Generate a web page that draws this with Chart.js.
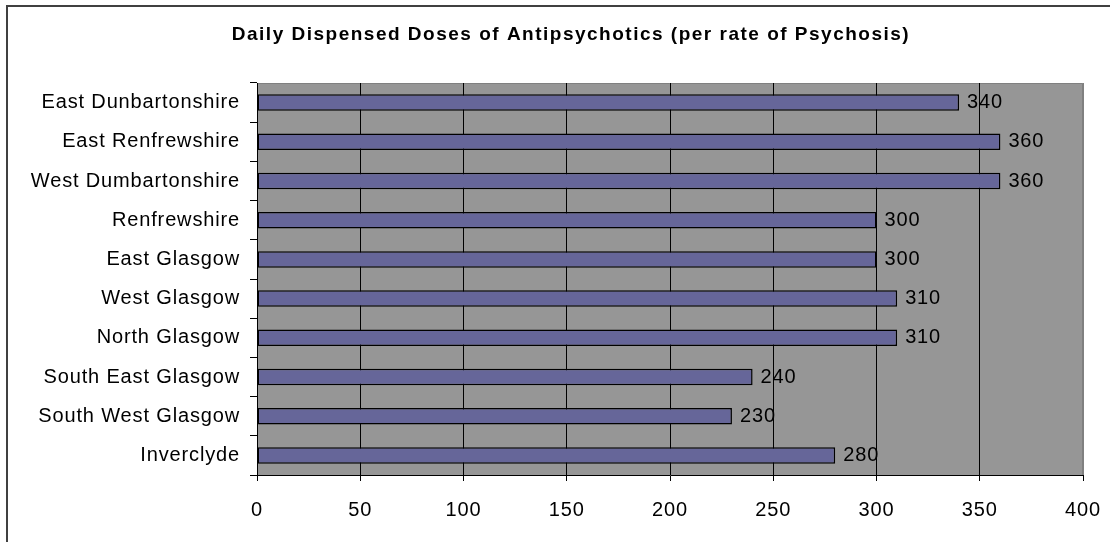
<!DOCTYPE html>
<html>
<head>
<meta charset="utf-8">
<script src="https://cdn.jsdelivr.net/npm/chart.js@4/dist/chart.umd.min.js"></script>
<style>
html,body{margin:0;padding:0;background:#fff;overflow:hidden;}
#c{display:block;}
</style>
</head>
<body>
<canvas id="c" width="1110" height="542"></canvas>
<script>
const categories = ["East Dunbartonshire","East Renfrewshire","West Dumbartonshire","Renfrewshire","East Glasgow","West Glasgow","North Glasgow","South East Glasgow","South West Glasgow","Inverclyde"];
const doses = [340,360,360,300,300,310,310,240,230,280];
const titleText = "Daily Dispensed Doses of Antipsychotics (per rate of Psychosis)";
const xMin = 0, xMax = 400, xStep = 50;

const FONT = "'Liberation Sans', Arial, sans-serif";
const SPACING = '0.85px';

const framePlugin = {
  id: 'frame',
  beforeDraw(chart) {
    const ctx = chart.ctx, a = chart.chartArea;
    ctx.letterSpacing = SPACING;
    ctx.save();
    // outer border (left and top)
    ctx.fillStyle = '#404040';
    ctx.fillRect(6, 5, 2, chart.height);
    ctx.fillRect(6, 5, chart.width, 2);
    // plot background
    ctx.fillStyle = '#969696';
    ctx.fillRect(a.left, a.top, a.right - a.left, a.bottom - a.top);
    // plot border top/right
    ctx.strokeStyle = '#808080';
    ctx.lineWidth = 1;
    ctx.beginPath();
    ctx.moveTo(a.left, a.top + 0.5);
    ctx.lineTo(a.right - 0.5, a.top + 0.5);
    ctx.lineTo(a.right - 0.5, a.bottom);
    ctx.stroke();
    // title
    ctx.fillStyle = '#000';
    ctx.font = "bold 19px " + FONT;
    ctx.letterSpacing = '1.5px';
    ctx.textAlign = 'center';
    ctx.textBaseline = 'middle';
    ctx.fillText(titleText, 571, 35);
    ctx.restore();
    ctx.letterSpacing = SPACING;
  },
  afterDatasetsDraw(chart) {
    const ctx = chart.ctx;
    const meta = chart.getDatasetMeta(0);
    ctx.save();
    ctx.letterSpacing = SPACING;
    ctx.fillStyle = '#000';
    ctx.font = "20px " + FONT;
    ctx.textAlign = 'left';
    ctx.textBaseline = 'middle';
    meta.data.forEach((bar, i) => {
      ctx.fillText(String(doses[i]), bar.x + 8, bar.y);
    });
    ctx.restore();
  }
};

new Chart(document.getElementById('c'), {
  type: 'bar',
  data: {
    labels: categories,
    datasets: [{
      data: doses,
      backgroundColor: '#666699',
      borderColor: '#000000',
      borderWidth: 1.5,
      borderSkipped: false,
      categoryPercentage: 1.0,
      barPercentage: 0.42
    }]
  },
  options: {
    indexAxis: 'y',
    responsive: false,
    devicePixelRatio: 1,
    animation: false,
    layout: { padding: { top: 83, right: 27, left: 0, bottom: 0 } },
    plugins: { legend: { display: false }, title: { display: false }, tooltip: { enabled: false } },
    scales: {
      x: {
        min: xMin, max: xMax,
        ticks: { stepSize: xStep, color: '#000', font: { family: FONT, size: 20 }, padding: 17, maxRotation: 0, autoSkip: false },
        grid: { color: (c) => (c.tick && c.tick.value === xMax) ? '#808080' : '#000000', lineWidth: 1, tickLength: 6, tickColor: '#000' },
        border: { color: '#000', width: 1 },
        afterFit(scale) { scale.height = 67; scale.paddingLeft = 0; scale.paddingRight = 0; }
      },
      y: {
        ticks: { color: '#000', font: { family: FONT, size: 20 }, padding: 10, autoSkip: false },
        grid: { offset: true, drawOnChartArea: false, tickLength: 7, color: '#000', lineWidth: 1 },
        border: { color: '#000', width: 1 },
        afterFit(scale) { scale.width = 257; scale.paddingTop = 0; scale.paddingBottom = 0; }
      }
    }
  },
  plugins: [framePlugin]
});
</script>
</body>
</html>
